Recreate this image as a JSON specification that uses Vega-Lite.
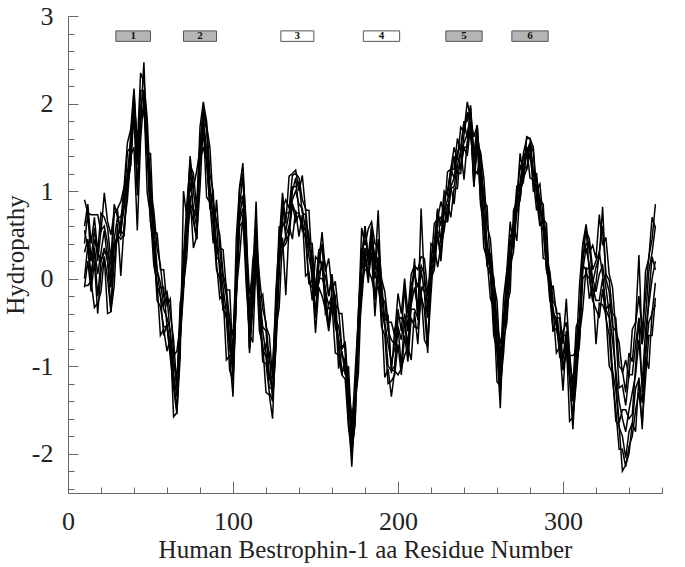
{
"$schema": "https://vega.github.io/schema/vega-lite/v6.json",
"width": 594, "height": 477,
"autosize": {"type": "none"},
"padding": {"left": 68, "top": 16, "right": 23, "bottom": 74},
"background": "white",
"config": {"view": {"stroke": null}, "font": "Liberation Serif"},
"datasets": {
"profiles": [
{"x":10,"a":0.30,"b":0.60,"c":-0.10,"d":0.40,"e":0.00,"f":0.90,"g":-0.08,"h":0.55},
{"x":12,"a":0.45,"b":0.85,"c":0.20,"d":0.75,"e":0.38,"f":0.75,"g":-0.08,"h":0.35},
{"x":14,"a":0.20,"b":0.40,"c":-0.15,"d":0.20,"e":0.05,"f":0.73,"g":-0.03,"h":-0.05},
{"x":16,"a":0.35,"b":0.70,"c":0.20,"d":0.58,"e":0.30,"f":0.73,"g":-0.33,"h":0.45},
{"x":18,"a":0.05,"b":0.30,"c":-0.40,"d":0.20,"e":-0.20,"f":0.73,"g":-0.28,"h":0.30},
{"x":20,"a":0.30,"b":0.75,"c":0.08,"d":0.55,"e":0.20,"f":0.53,"g":-0.15,"h":0.20},
{"x":22,"a":0.55,"b":0.70,"c":0.25,"d":0.60,"e":0.35,"f":0.98,"g":0.25,"h":0.30},
{"x":24,"a":0.20,"b":0.58,"c":0.00,"d":0.40,"e":0.20,"f":0.65,"g":-0.40,"h":0.30},
{"x":26,"a":-0.10,"b":0.20,"c":-0.38,"d":0.00,"e":-0.35,"f":0.50,"g":-0.38,"h":0.15},
{"x":28,"a":0.45,"b":0.85,"c":0.20,"d":0.75,"e":0.38,"f":0.75,"g":-0.08,"h":0.35},
{"x":30,"a":0.70,"b":0.70,"c":0.50,"d":0.80,"e":0.50,"f":0.78,"g":0.63,"h":0.45},
{"x":32,"a":0.55,"b":0.70,"c":0.55,"d":0.88,"e":0.45,"f":0.48,"g":0.03,"h":0.65},
{"x":34,"a":0.80,"b":0.85,"c":0.50,"d":1.05,"e":0.50,"f":1.03,"g":0.62,"h":1.05},
{"x":36,"a":1.20,"b":1.45,"c":1.13,"d":1.55,"e":1.05,"f":0.98,"g":0.90,"h":1.10},
{"x":38,"a":1.55,"b":1.50,"c":1.40,"d":1.70,"e":1.30,"f":1.67,"g":1.40,"h":1.30},
{"x":40,"a":1.95,"b":2.13,"c":1.90,"d":2.17,"e":1.90,"f":1.95,"g":1.50,"h":2.05},
{"x":42,"a":1.30,"b":1.40,"c":1.05,"d":1.50,"e":0.95,"f":1.45,"g":0.55,"h":1.55},
{"x":44,"a":1.95,"b":2.15,"c":1.85,"d":2.35,"e":1.83,"f":1.80,"g":1.58,"h":1.85},
{"x":46,"a":2.15,"b":2.15,"c":1.95,"d":2.25,"e":1.95,"f":2.47,"g":2.08,"h":1.90},
{"x":48,"a":1.50,"b":1.65,"c":1.50,"d":1.83,"e":1.40,"f":1.43,"g":0.98,"h":1.60},
{"x":50,"a":0.90,"b":0.65,"c":1.00,"d":1.00,"e":0.65,"f":1.43,"g":0.72,"h":1.15},
{"x":52,"a":0.45,"b":0.40,"c":0.78,"d":0.65,"e":0.35,"f":0.53,"g":0.15,"h":0.35},
{"x":54,"a":0.10,"b":-0.25,"c":0.35,"d":0.10,"e":-0.10,"f":0.52,"g":-0.05,"h":-0.15},
{"x":56,"a":-0.20,"b":-0.32,"c":0.15,"d":-0.05,"e":-0.20,"f":0.10,"g":-0.65,"h":-0.10},
{"x":58,"a":-0.35,"b":-0.55,"c":-0.20,"d":-0.30,"e":-0.65,"f":0.10,"g":-0.58,"h":-0.10},
{"x":60,"a":-0.45,"b":-0.55,"c":-0.15,"d":-0.20,"e":-0.52,"f":-0.30,"g":-0.83,"h":-0.55},
{"x":62,"a":-0.60,"b":-0.90,"c":-0.40,"d":-0.65,"e":-0.75,"f":-0.23,"g":-0.68,"h":-0.85},
{"x":64,"a":-1.10,"b":-1.25,"c":-0.70,"d":-0.92,"e":-1.15,"f":-0.88,"g":-1.58,"h":-1.00},
{"x":66,"a":-1.35,"b":-1.55,"c":-1.25,"d":-1.25,"e":-1.50,"f":-0.83,"g":-1.53,"h":-1.10},
{"x":68,"a":-0.60,"b":-0.65,"c":-0.27,"d":-0.40,"e":-0.70,"f":-0.53,"g":-0.90,"h":-0.70},
{"x":70,"a":0.10,"b":0.05,"c":-0.10,"d":0.25,"e":-0.05,"f":-0.08,"g":1.00,"h":-0.15},
{"x":72,"a":0.55,"b":0.73,"c":0.45,"d":0.85,"e":0.60,"f":0.25,"g":0.70,"h":0.65},
{"x":74,"a":1.10,"b":1.20,"c":0.80,"d":1.30,"e":0.85,"f":0.95,"g":1.40,"h":1.35},
{"x":76,"a":0.80,"b":1.00,"c":0.65,"d":1.20,"e":0.78,"f":0.35,"g":1.03,"h":0.70},
{"x":78,"a":0.70,"b":0.70,"c":0.45,"d":0.80,"e":0.60,"f":0.48,"g":1.23,"h":0.45},
{"x":80,"a":1.40,"b":1.55,"c":1.35,"d":1.73,"e":1.40,"f":1.03,"g":1.48,"h":1.50},
{"x":82,"a":1.85,"b":1.90,"c":1.50,"d":2.02,"e":1.65,"f":1.78,"g":1.95,"h":1.80},
{"x":84,"a":1.45,"b":1.70,"c":1.33,"d":1.80,"e":1.40,"f":0.93,"g":1.75,"h":1.35},
{"x":86,"a":1.05,"b":1.00,"c":0.85,"d":1.20,"e":0.90,"f":0.87,"g":1.50,"h":0.80},
{"x":88,"a":0.70,"b":0.88,"c":0.60,"d":1.00,"e":0.75,"f":0.40,"g":0.85,"h":0.80},
{"x":90,"a":0.40,"b":0.65,"c":0.10,"d":0.25,"e":0.35,"f":0.90,"g":0.18,"h":0.65},
{"x":92,"a":0.15,"b":0.50,"c":0.00,"d":0.20,"e":0.33,"f":0.35,"g":-0.23,"h":0.05},
{"x":94,"a":-0.10,"b":0.05,"c":-0.35,"d":-0.35,"e":0.00,"f":0.33,"g":-0.18,"h":-0.35},
{"x":96,"a":-0.40,"b":-0.10,"c":-0.45,"d":-0.42,"e":-0.20,"f":-0.13,"g":-0.93,"h":-0.30},
{"x":98,"a":-0.70,"b":-0.50,"c":-1.05,"d":-0.80,"e":-0.70,"f":-0.13,"g":-0.88,"h":-0.45},
{"x":100,"a":-1.05,"b":-0.65,"c":-1.17,"d":-1.05,"e":-0.90,"f":-0.93,"g":-1.35,"h":-1.15},
{"x":102,"a":0.00,"b":0.10,"c":-0.20,"d":-0.20,"e":0.05,"f":0.47,"g":-0.15,"h":-0.25},
{"x":104,"a":0.70,"b":1.03,"c":0.60,"d":0.65,"e":0.95,"f":1.05,"g":0.25,"h":0.80},
{"x":106,"a":0.95,"b":1.20,"c":0.65,"d":0.80,"e":0.90,"f":1.32,"g":0.73,"h":1.20},
{"x":108,"a":0.30,"b":0.65,"c":0.15,"d":0.35,"e":0.48,"f":0.50,"g":-0.08,"h":0.20},
{"x":110,"a":-0.55,"b":-0.85,"c":-0.35,"d":-0.80,"e":-0.45,"f":-0.18,"g":-0.63,"h":-0.80},
{"x":112,"a":-0.20,"b":-0.35,"c":0.20,"d":-0.22,"e":0.00,"f":0.03,"g":-0.73,"h":-0.10},
{"x":114,"a":0.40,"b":0.15,"c":0.50,"d":0.30,"e":0.40,"f":0.88,"g":0.22,"h":0.65},
{"x":116,"a":-0.30,"b":-0.35,"c":0.03,"d":-0.30,"e":-0.15,"f":-0.23,"g":-0.60,"h":-0.40},
{"x":118,"a":-0.60,"b":-0.95,"c":-0.35,"d":-0.80,"e":-0.55,"f":-0.18,"g":-0.75,"h":-0.85},
{"x":120,"a":-0.85,"b":-0.97,"c":-0.50,"d":-0.90,"e":-0.60,"f":-0.55,"g":-1.30,"h":-0.75},
{"x":122,"a":-1.10,"b":-1.30,"c":-0.95,"d":-1.25,"e":-1.15,"f":-0.65,"g":-1.33,"h":-0.85},
{"x":124,"a":-1.30,"b":-1.40,"c":-1.00,"d":-1.25,"e":-1.12,"f":-1.15,"g":-1.60,"h":-1.40},
{"x":126,"a":-0.50,"b":-0.80,"c":-0.30,"d":-0.75,"e":-0.40,"f":-0.13,"g":-0.58,"h":-0.75},
{"x":128,"a":0.20,"b":0.05,"c":0.60,"d":0.18,"e":0.40,"f":0.43,"g":-0.33,"h":0.30},
{"x":130,"a":0.65,"b":0.80,"c":0.35,"d":0.75,"e":0.35,"f":0.98,"g":0.47,"h":0.90},
{"x":132,"a":0.55,"b":0.90,"c":0.48,"d":0.75,"e":0.40,"f":0.63,"g":-0.19,"h":0.45},
{"x":134,"a":0.75,"b":0.80,"c":0.60,"d":0.75,"e":0.50,"f":1.17,"g":0.60,"h":0.50},
{"x":136,"a":0.90,"b":1.18,"c":0.85,"d":1.05,"e":0.85,"f":1.20,"g":0.45,"h":1.00},
{"x":138,"a":1.00,"b":1.20,"c":0.75,"d":1.05,"e":0.65,"f":1.24,"g":0.78,"h":1.15},
{"x":140,"a":0.85,"b":1.15,"c":0.75,"d":1.10,"e":0.73,"f":1.00,"g":0.48,"h":0.75},
{"x":142,"a":0.80,"b":0.90,"c":0.60,"d":0.75,"e":0.60,"f":1.18,"g":0.73,"h":0.55},
{"x":144,"a":0.55,"b":0.80,"c":0.55,"d":0.73,"e":0.45,"f":0.78,"g":0.03,"h":0.65},
{"x":146,"a":0.25,"b":0.40,"c":-0.05,"d":0.35,"e":-0.05,"f":0.78,"g":0.07,"h":0.50},
{"x":148,"a":0.05,"b":0.40,"c":-0.02,"d":0.25,"e":-0.10,"f":0.13,"g":-0.25,"h":-0.05},
{"x":150,"a":-0.20,"b":-0.15,"c":-0.62,"d":-0.40,"e":-0.15,"f":-0.18,"g":0.25,"h":-0.45},
{"x":152,"a":0.05,"b":0.33,"c":-0.10,"d":0.00,"e":0.30,"f":-0.05,"g":0.20,"h":0.15},
{"x":154,"a":0.15,"b":0.35,"c":-0.20,"d":0.00,"e":0.10,"f":0.20,"g":0.53,"h":0.40},
{"x":156,"a":-0.15,"b":0.15,"c":-0.35,"d":-0.10,"e":0.03,"f":-0.40,"g":0.08,"h":-0.25},
{"x":158,"a":-0.30,"b":-0.20,"c":-0.60,"d":-0.55,"e":-0.20,"f":-0.33,"g":0.23,"h":-0.55},
{"x":160,"a":-0.20,"b":0.05,"c":-0.30,"d":-0.22,"e":0.00,"f":-0.38,"g":-0.13,"h":-0.10},
{"x":162,"a":-0.45,"b":-0.30,"c":-0.85,"d":-0.55,"e":-0.45,"f":-0.33,"g":-0.03,"h":-0.20},
{"x":164,"a":-0.70,"b":-0.35,"c":-0.87,"d":-0.70,"e":-0.55,"f":-1.03,"g":-0.40,"h":-0.80},
{"x":166,"a":-0.85,"b":-0.80,"c":-1.10,"d":-1.05,"e":-0.80,"f":-0.83,"g":-0.40,"h":-1.10},
{"x":168,"a":-1.00,"b":-0.72,"c":-1.15,"d":-1.05,"e":-0.75,"f":-1.10,"g":-0.85,"h":-0.90},
{"x":170,"a":-1.40,"b":-1.30,"c":-1.70,"d":-1.30,"e":-1.65,"f":-1.00,"g":-1.58,"h":-1.15},
{"x":172,"a":-1.85,"b":-1.65,"c":-2.00,"d":-1.55,"e":-1.87,"f":-1.75,"g":-2.15,"h":-1.95},
{"x":174,"a":-1.40,"b":-1.40,"c":-1.65,"d":-1.40,"e":-1.50,"f":-1.08,"g":-1.43,"h":-1.65},
{"x":176,"a":-0.60,"b":-0.45,"c":-0.65,"d":-0.37,"e":-0.60,"f":-0.43,"g":-1.08,"h":-0.50},
{"x":178,"a":0.10,"b":0.15,"c":-0.25,"d":0.25,"e":-0.10,"f":0.58,"g":-0.03,"h":0.35},
{"x":180,"a":0.35,"b":0.60,"c":0.23,"d":0.60,"e":0.30,"f":0.38,"g":0.10,"h":0.25},
{"x":182,"a":0.20,"b":0.15,"c":0.00,"d":0.25,"e":0.05,"f":0.57,"g":0.10,"h":-0.05},
{"x":184,"a":0.40,"b":0.58,"c":0.30,"d":0.60,"e":0.45,"f":0.65,"g":0.00,"h":0.50},
{"x":186,"a":0.00,"b":0.10,"c":-0.43,"d":0.10,"e":-0.25,"f":0.40,"g":-0.18,"h":0.25},
{"x":188,"a":0.25,"b":0.45,"c":0.10,"d":0.78,"e":0.23,"f":0.35,"g":-0.08,"h":0.15},
{"x":190,"a":-0.20,"b":0.00,"c":-0.55,"d":-0.20,"e":-0.35,"f":-0.03,"g":-0.38,"h":-0.45},
{"x":192,"a":-0.50,"b":-0.15,"c":-0.65,"d":-0.27,"e":-0.55,"f":-0.48,"g":-1.13,"h":-0.40},
{"x":194,"a":-0.75,"b":-0.50,"c":-1.20,"d":-0.60,"e":-1.00,"f":-0.43,"g":-1.03,"h":-0.50},
{"x":196,"a":-0.95,"b":-0.50,"c":-1.17,"d":-0.70,"e":-1.05,"f":-1.08,"g":-1.35,"h":-1.05},
{"x":198,"a":-0.80,"b":-0.65,"c":-1.10,"d":-0.75,"e":-1.00,"f":-0.58,"g":-1.05,"h":-1.05},
{"x":200,"a":-0.55,"b":-0.17,"c":-0.75,"d":-0.35,"e":-0.55,"f":-0.45,"g":-1.10,"h":-0.45},
{"x":202,"a":-0.70,"b":-0.40,"c":-1.10,"d":-0.60,"e":-1.00,"f":-0.45,"g":-1.03,"h":-0.45},
{"x":204,"a":-0.40,"b":0.00,"c":-0.65,"d":-0.10,"e":-0.47,"f":-0.45,"g":-0.88,"h":-0.50},
{"x":206,"a":-0.60,"b":-0.40,"c":-0.95,"d":-0.60,"e":-0.75,"f":-0.43,"g":-0.78,"h":-0.85},
{"x":208,"a":-0.30,"b":0.05,"c":-0.45,"d":-0.07,"e":-0.35,"f":-0.28,"g":-0.93,"h":-0.20},
{"x":210,"a":-0.10,"b":0.15,"c":-0.55,"d":0.05,"e":-0.35,"f":0.23,"g":-0.38,"h":0.15},
{"x":212,"a":-0.35,"b":0.10,"c":-0.57,"d":-0.10,"e":-0.45,"f":-0.48,"g":-0.75,"h":-0.45},
{"x":214,"a":0.10,"b":0.25,"c":-0.20,"d":0.15,"e":-0.10,"f":0.80,"g":-0.15,"h":-0.15},
{"x":216,"a":-0.15,"b":0.23,"c":-0.35,"d":0.05,"e":-0.15,"f":-0.05,"g":-0.70,"h":-0.05},
{"x":218,"a":-0.45,"b":-0.15,"c":-0.85,"d":-0.35,"e":-0.75,"f":-0.20,"g":-0.78,"h":-0.20},
{"x":220,"a":0.10,"b":0.10,"c":0.25,"d":0.40,"e":0.03,"f":0.15,"g":-0.18,"h":0.00},
{"x":222,"a":0.35,"b":0.15,"c":0.40,"d":0.35,"e":0.20,"f":0.63,"g":0.38,"h":0.10},
{"x":224,"a":0.55,"b":0.50,"c":0.80,"d":0.78,"e":0.50,"f":0.68,"g":0.13,"h":0.65},
{"x":226,"a":0.45,"b":0.30,"c":0.40,"d":0.60,"e":0.20,"f":0.88,"g":0.37,"h":0.70},
{"x":228,"a":0.75,"b":0.80,"c":0.93,"d":1.00,"e":0.65,"f":0.73,"g":0.55,"h":0.65},
{"x":230,"a":0.90,"b":0.65,"c":1.00,"d":0.95,"e":0.70,"f":1.22,"g":0.85,"h":0.65},
{"x":232,"a":1.05,"b":1.03,"c":1.25,"d":1.25,"e":1.05,"f":1.25,"g":0.70,"h":1.15},
{"x":234,"a":1.15,"b":1.05,"c":1.15,"d":1.25,"e":0.85,"f":1.50,"g":1.03,"h":1.40},
{"x":236,"a":1.30,"b":1.30,"c":1.45,"d":1.60,"e":1.23,"f":1.35,"g":1.03,"h":1.20},
{"x":238,"a":1.45,"b":1.25,"c":1.50,"d":1.45,"e":1.30,"f":1.73,"g":1.48,"h":1.20},
{"x":240,"a":1.55,"b":1.50,"c":1.80,"d":1.78,"e":1.50,"f":1.68,"g":1.13,"h":1.65},
{"x":242,"a":1.65,"b":1.50,"c":1.60,"d":1.80,"e":1.40,"f":2.02,"g":1.57,"h":1.90},
{"x":244,"a":1.85,"b":1.90,"c":1.95,"d":1.98,"e":1.75,"f":1.83,"g":1.65,"h":1.75},
{"x":246,"a":1.30,"b":1.05,"c":1.40,"d":1.35,"e":1.10,"f":1.62,"g":1.25,"h":1.05},
{"x":248,"a":1.55,"b":1.53,"c":1.75,"d":1.75,"e":1.55,"f":1.75,"g":1.20,"h":1.65},
{"x":250,"a":1.15,"b":1.45,"c":0.85,"d":1.20,"e":0.90,"f":1.05,"g":1.43,"h":1.40},
{"x":252,"a":0.75,"b":1.15,"c":0.60,"d":1.00,"e":0.73,"f":0.35,"g":0.88,"h":0.65},
{"x":254,"a":0.40,"b":0.60,"c":0.15,"d":0.35,"e":0.30,"f":0.23,"g":0.83,"h":0.15},
{"x":256,"a":0.10,"b":0.45,"c":0.05,"d":0.28,"e":0.10,"f":-0.23,"g":0.08,"h":0.20},
{"x":258,"a":-0.30,"b":-0.05,"c":-0.65,"d":-0.20,"e":-0.50,"f":-0.33,"g":0.02,"h":-0.05},
{"x":260,"a":-0.70,"b":-0.25,"c":-0.82,"d":-0.50,"e":-0.75,"f":-1.18,"g":-0.50,"h":-0.80},
{"x":262,"a":-1.10,"b":-0.95,"c":-1.30,"d":-1.10,"e":-1.25,"f":-1.23,"g":-0.75,"h":-1.48},
{"x":264,"a":-0.60,"b":-0.22,"c":-0.70,"d":-0.45,"e":-0.55,"f":-0.85,"g":-0.55,"h":-0.50},
{"x":266,"a":-0.20,"b":0.10,"c":-0.50,"d":-0.15,"e":-0.45,"f":-0.30,"g":0.08,"h":0.05},
{"x":268,"a":0.25,"b":0.65,"c":0.10,"d":0.50,"e":0.23,"f":-0.15,"g":0.38,"h":0.15},
{"x":270,"a":0.55,"b":0.35,"c":0.60,"d":0.45,"e":0.50,"f":0.78,"g":0.63,"h":0.30},
{"x":272,"a":0.80,"b":0.75,"c":1.05,"d":0.93,"e":0.85,"f":0.88,"g":0.43,"h":0.90},
{"x":274,"a":1.05,"b":0.90,"c":1.00,"d":1.10,"e":0.90,"f":1.43,"g":1.02,"h":1.30},
{"x":276,"a":1.25,"b":1.30,"c":1.43,"d":1.40,"e":1.25,"f":1.18,"g":1.10,"h":1.15},
{"x":278,"a":1.50,"b":1.25,"c":1.60,"d":1.45,"e":1.40,"f":1.62,"g":1.50,"h":1.25},
{"x":280,"a":1.45,"b":1.43,"c":1.60,"d":1.55,"e":1.55,"f":1.60,"g":1.15,"h":1.55},
{"x":282,"a":1.20,"b":1.10,"c":1.20,"d":1.20,"e":1.00,"f":1.50,"g":1.13,"h":1.45},
{"x":284,"a":1.00,"b":1.00,"c":1.15,"d":1.20,"e":1.03,"f":1.00,"g":0.78,"h":0.90},
{"x":286,"a":0.85,"b":0.65,"c":0.90,"d":0.75,"e":0.80,"f":1.08,"g":0.93,"h":0.60},
{"x":288,"a":0.60,"b":0.55,"c":0.85,"d":0.73,"e":0.65,"f":0.68,"g":0.23,"h":0.70},
{"x":290,"a":0.25,"b":0.10,"c":0.20,"d":0.30,"e":0.10,"f":0.63,"g":0.22,"h":0.50},
{"x":292,"a":-0.10,"b":-0.05,"c":0.08,"d":0.05,"e":-0.10,"f":-0.18,"g":-0.25,"h":-0.20},
{"x":294,"a":-0.35,"b":-0.60,"c":-0.25,"d":-0.40,"e":-0.45,"f":-0.08,"g":-0.35,"h":-0.60},
{"x":296,"a":-0.55,"b":-0.57,"c":-0.35,"d":-0.45,"e":-0.45,"f":-0.40,"g":-0.85,"h":-0.45},
{"x":298,"a":-0.70,"b":-0.80,"c":-0.70,"d":-0.70,"e":-0.90,"f":-0.40,"g":-0.78,"h":-0.45},
{"x":300,"a":-0.90,"b":-0.60,"c":-1.05,"d":-0.65,"e":-0.92,"f":-0.75,"g":-1.28,"h":-1.00},
{"x":302,"a":-0.60,"b":-0.50,"c":-0.85,"d":-0.65,"e":-0.70,"f":-0.23,"g":-0.68,"h":-0.85},
{"x":304,"a":-1.10,"b":-0.85,"c":-1.15,"d":-0.92,"e":-1.10,"f":-0.88,"g":-1.63,"h":-1.00},
{"x":306,"a":-1.40,"b":-1.25,"c":-1.72,"d":-1.30,"e":-1.60,"f":-0.88,"g":-1.58,"h":-1.15},
{"x":308,"a":-0.90,"b":-0.55,"c":-1.02,"d":-0.70,"e":-0.95,"f":-0.83,"g":-1.20,"h":-1.00},
{"x":310,"a":-0.50,"b":-0.45,"c":-0.70,"d":-0.50,"e":-0.65,"f":-0.08,"g":-0.65,"h":-0.75},
{"x":312,"a":0.10,"b":0.38,"c":0.00,"d":0.25,"e":0.15,"f":0.40,"g":-0.35,"h":0.20},
{"x":314,"a":0.35,"b":0.55,"c":0.05,"d":0.40,"e":0.10,"f":0.62,"g":0.13,"h":0.58},
{"x":316,"a":0.15,"b":0.45,"c":0.00,"d":0.40,"e":0.13,"f":0.30,"g":-0.23,"h":0.05},
{"x":318,"a":0.00,"b":0.10,"c":-0.25,"d":-0.05,"e":-0.10,"f":0.38,"g":-0.08,"h":-0.25},
{"x":320,"a":-0.15,"b":0.20,"c":-0.35,"d":0.13,"e":-0.25,"f":0.23,"g":-0.75,"h":-0.05},
{"x":322,"a":0.05,"b":0.30,"c":-0.45,"d":0.25,"e":-0.25,"f":0.73,"g":-0.28,"h":0.30},
{"x":324,"a":0.15,"b":0.60,"c":-0.12,"d":0.82,"e":0.00,"f":0.38,"g":-0.30,"h":0.05},
{"x":326,"a":-0.10,"b":0.05,"c":-0.45,"d":0.00,"e":-0.35,"f":0.47,"g":-0.40,"h":-0.35},
{"x":328,"a":-0.40,"b":-0.02,"c":-0.65,"d":-0.15,"e":-0.45,"f":0.05,"g":-1.00,"h":-0.30},
{"x":330,"a":-0.70,"b":-0.40,"c":-1.15,"d":-0.55,"e":-1.05,"f":-0.10,"g":-1.08,"h":-0.45},
{"x":332,"a":-1.05,"b":-0.45,"c":-1.50,"d":-0.60,"e":-1.27,"f":-0.60,"g":-1.63,"h":-1.15},
{"x":334,"a":-1.40,"b":-1.00,"c":-1.95,"d":-1.25,"e":-1.70,"f":-0.73,"g":-1.68,"h":-1.65},
{"x":336,"a":-1.60,"b":-1.05,"c":-1.95,"d":-1.22,"e":-1.80,"f":-1.08,"g":-2.20,"h":-1.50},
{"x":338,"a":-1.75,"b":-1.30,"c":-2.15,"d":-1.45,"e":-2.05,"f":-0.93,"g":-2.13,"h":-1.50},
{"x":340,"a":-1.50,"b":-0.85,"c":-1.92,"d":-1.10,"e":-1.75,"f":-1.13,"g":-2.00,"h":-1.60},
{"x":342,"a":-1.30,"b":-0.95,"c":-1.80,"d":-1.10,"e":-1.65,"f":-0.58,"g":-1.65,"h":-1.55},
{"x":344,"a":-1.10,"b":-0.52,"c":-1.50,"d":-0.75,"e":-1.25,"f":-0.50,"g":-1.75,"h":-1.00},
{"x":346,"a":-0.70,"b":-0.20,"c":-1.30,"d":-0.45,"e":-1.15,"f":0.27,"g":-1.13,"h":-0.45},
{"x":348,"a":-1.20,"b":-0.60,"c":-1.65,"d":-0.75,"e":-1.42,"f":-0.75,"g":-1.72,"h":-1.30},
{"x":350,"a":-0.60,"b":-0.20,"c":-1.15,"d":-0.45,"e":-0.90,"f":0.08,"g":-0.88,"h":-0.85},
{"x":352,"a":-0.30,"b":0.25,"c":-0.65,"d":0.08,"e":-0.50,"f":0.23,"g":-1.03,"h":-0.20},
{"x":354,"a":0.00,"b":0.45,"c":-0.65,"d":0.30,"e":-0.40,"f":0.70,"g":-0.38,"h":0.25},
{"x":356,"a":0.20,"b":0.85,"c":-0.22,"d":0.60,"e":-0.05,"f":0.58,"g":-0.30,"h":0.10}
],
"boxes": [
{"n":"1","x1":29,"x2":50,"m":39.5,"shade":"gray"},
{"n":"2","x1":70,"x2":90,"m":80,"shade":"gray"},
{"n":"3","x1":129,"x2":149,"m":139,"shade":"white"},
{"n":"4","x1":179,"x2":201,"m":190,"shade":"white"},
{"n":"5","x1":229,"x2":251,"m":240,"shade":"gray"},
{"n":"6","x1":269,"x2":291,"m":280,"shade":"gray"}
]
},
"layer": [
{
"data": {"name": "profiles"},
"transform": [{"fold": ["a","b","c","d","e","f","g","h"], "as": ["s","v"]}],
"mark": {"type": "line", "color": "#000000", "strokeWidth": 1.5, "clip": true},
"encoding": {
"x": {"field": "x", "type": "quantitative", "title": "Human Bestrophin-1 aa Residue Number",
"scale": {"domain": [0, 360], "nice": false, "zero": false},
"axis": {"values": [0,20,40,60,80,100,120,140,160,180,200,220,240,260,280,300,320,340,360], "tickCount": 100,
"labelExpr": "datum.value % 100 === 0 && datum.value < 360 ? datum.label : ''",
"tickSize": {"condition": {"test": "datum.value % 100 === 0", "value": -12}, "value": -6},
"grid": false, "domainColor": "#666666", "tickColor": "#666666", "labelOverlap": false, "labelFlush": false,
"labelFont": "Liberation Serif", "labelFontSize": 26, "labelColor": "#222222", "labelPadding": 27,
"titleFont": "Liberation Serif", "titleFontSize": 25, "titleFontWeight": "normal", "titleColor": "#222222", "titlePadding": -3}},
"y": {"field": "v", "type": "quantitative", "title": "Hydropathy",
"scale": {"domain": [-2.45, 3], "nice": false, "zero": false},
"axis": {"values": [-2.4,-2.2,-2,-1.8,-1.6,-1.4,-1.2,-1,-0.8,-0.6,-0.4,-0.2,0,0.2,0.4,0.6,0.8,1,1.2,1.4,1.6,1.8,2,2.2,2.4,2.6,2.8,3], "tickCount": 100,
"labelExpr": "datum.value % 1 === 0 ? '' + datum.value : ''",
"tickSize": {"condition": {"test": "datum.value % 1 === 0", "value": -10}, "value": -6},
"grid": false, "domainColor": "#666666", "tickColor": "#666666", "labelOverlap": false, "labelFlush": false,
"labelFont": "Liberation Serif", "labelFontSize": 26, "labelColor": "#222222", "labelPadding": 25,
"titleFont": "Liberation Serif", "titleFontSize": 25, "titleFontWeight": "normal", "titleColor": "#222222", "titlePadding": 3}},
"detail": {"field": "s", "type": "nominal"}
}
},
{
"mark": {"type": "rule", "color": "#cc4444", "strokeDash": [7, 5], "strokeWidth": 1.5},
"encoding": {"y": {"datum": 1.6}}
},
{
"data": {"name": "boxes"},
"mark": {"type": "rect", "stroke": "#555555", "strokeWidth": 1},
"encoding": {
"x": {"field": "x1", "type": "quantitative"},
"x2": {"field": "x2"},
"y": {"datum": 2.71},
"y2": {"datum": 2.83},
"fill": {"field": "shade", "type": "nominal", "scale": {"domain": ["gray", "white"], "range": ["#b5b5b5", "#ffffff"]}, "legend": null}
}
},
{
"data": {"name": "boxes"},
"mark": {"type": "text", "font": "Liberation Serif", "fontSize": 11, "fontWeight": "bold", "color": "#111111", "baseline": "middle", "align": "center"},
"encoding": {
"x": {"field": "m", "type": "quantitative"},
"y": {"datum": 2.77},
"text": {"field": "n", "type": "nominal"}
}
}
]
}
